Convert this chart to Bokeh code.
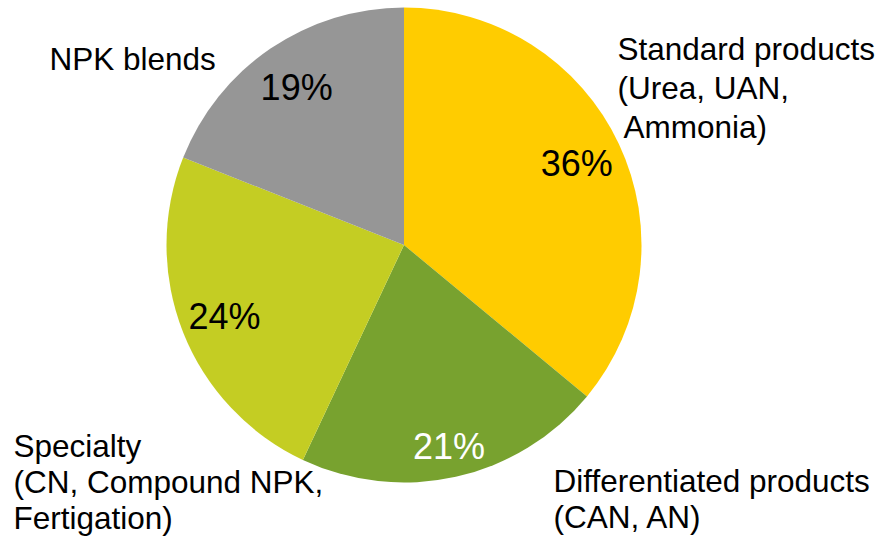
import math
from bokeh.plotting import figure
from bokeh.models import Range1d, ColumnDataSource
from bokeh.core.properties import value
from bokeh.embed import file_html
from bokeh.resources import INLINE

# ---- data ----
categories = ["Standard products", "Differentiated products", "Specialty", "NPK blends"]
shares = [36, 21, 24, 19]
colors = ["#FFCC00", "#78A22F", "#C4CD23", "#969696"]
pct_colors = ["#000000", "#FFFFFF", "#000000", "#000000"]
label_lines = [
    ["Standard products", "(Urea, UAN,", "Ammonia)"],
    ["Differentiated products", "(CAN, AN)"],
    ["Specialty", "(CN, Compound NPK,", "Fertigation)"],
    ["NPK blends"],
]

# ---- layout (page pixel coordinates; data y = H - page_y) ----
W, H = 882, 539
def px(x):
    return x
def py(y):
    return H - y

cx, cy, R = 403.5, 244.5, 237.5
pct_radius = [191, 206, 193, 191]
label_pos = [
    [(617, 60), (617, 99), (623, 138)],
    [(553, 492), (553, 528)],
    [(13, 457), (13, 493), (13, 529)],
    [(49, 70)],
]
LABEL_SHIFT = -12
PCT_SHIFT = -13

p = figure(width=W, height=H, output_backend="svg", toolbar_location=None,
           x_range=Range1d(0, W), y_range=Range1d(0, H), min_border=0)
p.axis.visible = False
p.grid.visible = False
p.outline_line_color = None
p.background_fill_color = "white"
p.border_fill_color = "white"

total = sum(shares)
starts, ends, mids = [], [], []
cum = 0
for s in shares:
    a0 = math.pi / 2 - 2 * math.pi * cum / total
    cum += s
    a1 = math.pi / 2 - 2 * math.pi * cum / total
    starts.append(a0)
    ends.append(a1)
    mids.append((a0 + a1) / 2)

src = ColumnDataSource(dict(start=starts, end=ends, color=colors,
                            x=[px(cx)] * 4, y=[py(cy)] * 4))
p.wedge(x="x", y="y", radius=R, start_angle="start", end_angle="end",
        direction="clock", fill_color="color", line_color=None, source=src)

# percentage labels
tx, ty, tt = [], [], []
for m, r, s in zip(mids, pct_radius, shares):
    x = cx + r * math.cos(m)
    yc = cy - r * math.sin(m)
    tx.append(px(x))
    ty.append(py(yc + 13 + PCT_SHIFT))
    tt.append(f"{s}%")
p.text(x=tx, y=ty, text=tt, text_color=pct_colors, text_align="center",
       text_baseline="alphabetic", text_font=value("Liberation Sans"),
       text_font_size="36px")

# category labels
lx, ly, lt = [], [], []
for lines, poss in zip(label_lines, label_pos):
    for line, (x, y) in zip(lines, poss):
        lx.append(px(x))
        ly.append(py(y + LABEL_SHIFT))
        lt.append(line)
p.text(x=lx, y=ly, text=lt, text_color="#000000", text_align="left",
       text_baseline="alphabetic", text_font=value("Liberation Sans"),
       text_font_size="31.5px")

open("out.html", "w").write(file_html(p, INLINE))
